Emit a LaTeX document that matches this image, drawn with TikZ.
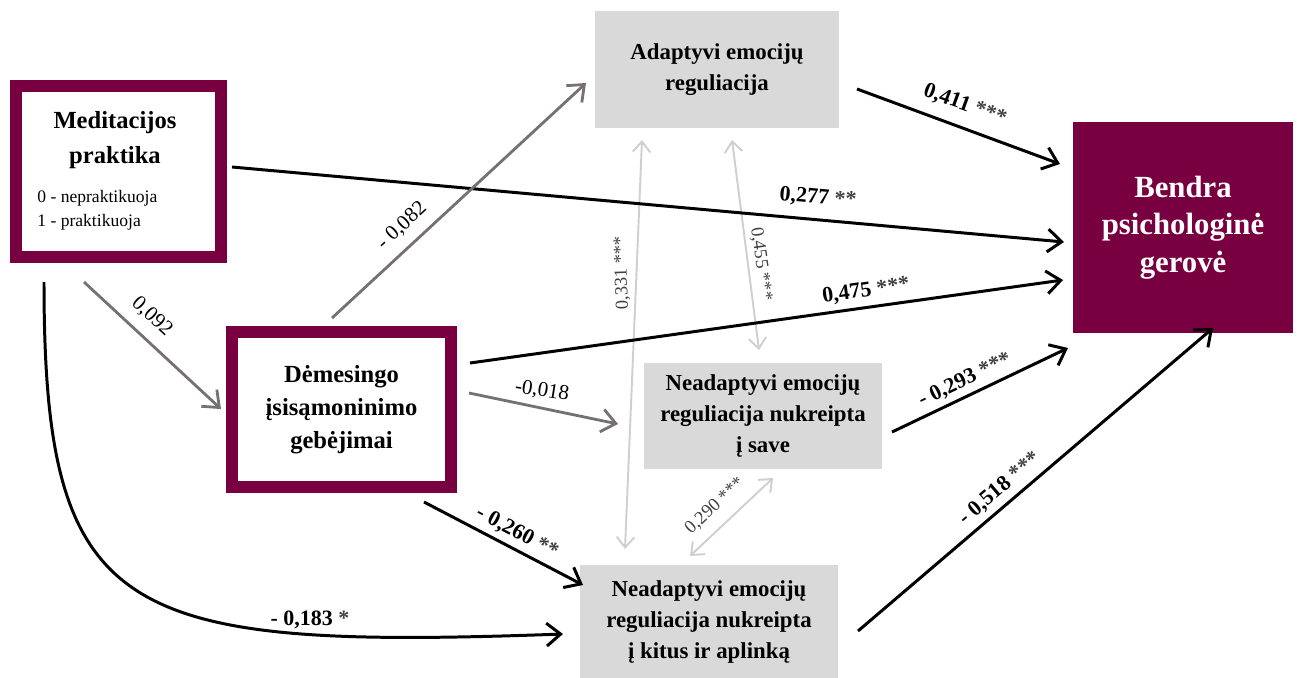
\documentclass[tikz,border=0pt]{standalone}
\usepackage{fontspec}
\setmainfont{Liberation Serif}
\usetikzlibrary{arrows.meta}
\definecolor{wine}{HTML}{780040}
\definecolor{boxgray}{HTML}{D9D9D9}
\definecolor{arrgray}{HTML}{767171}
\definecolor{corgray}{HTML}{D0CECE}
\definecolor{stargray}{HTML}{404040}
\tikzset{
  framebox/.style={draw=wine, line width=6.8pt, fill=white, inner sep=0pt},
  graybox/.style={fill=boxgray, inner sep=0pt, align=center, font=\fontsize{13}{17.8}\selectfont\bfseries},
  blk/.style={draw=black, line width=1.7pt, -{Straight Barb[length=8pt,width=13pt]}},
  gry/.style={draw=arrgray, line width=1.6pt, -{Straight Barb[length=8pt,width=13pt]}},
  cor/.style={draw=corgray, line width=1.1pt, {Straight Barb[length=6pt,width=10pt]}-{Straight Barb[length=6pt,width=10pt]}},
  lblb/.style={font=\fontsize{12.5}{14}\selectfont\bfseries, inner sep=0pt},
  lbln/.style={font=\fontsize{12}{14}\selectfont, inner sep=0pt},
  lblc/.style={font=\fontsize{10.5}{12}\selectfont, text=stargray, inner sep=0pt},
}
\newcommand{\stars}[1]{{\color{stargray}#1}}
\begin{document}
\begin{tikzpicture}[x=0.02cm, y=-0.02cm]
\useasboundingbox (0,0) rectangle (1297,677);
% boxes
\node[framebox, minimum width=4.1cm, minimum height=3.42cm] (med) at (118.5,171.5) {};
\node[font=\fontsize{14}{19.5}\selectfont\bfseries, align=center, inner sep=0pt] (medt) at (115,140) {Meditacijos\\praktika};
\node[font=\fontsize{10}{13.6}\selectfont, align=left, anchor=west, inner sep=0pt] (meds) at (37,210) {0 - nepraktikuoja\\1 - praktikuoja};
\node[framebox, minimum width=4.38cm, minimum height=3.1cm, align=center, font=\fontsize{14}{18.7}\selectfont\bfseries] (dem) at (341.5,409.5) {Dėmesingo\\įsisąmoninimo\\gebėjimai};
\node[graybox, minimum width=4.88cm, minimum height=2.34cm] (ada) at (717,69.5) {Adaptyvi emocijų\\reguliacija};
\node[graybox, minimum width=4.76cm, minimum height=2.12cm] (save) at (763,416) {Neadaptyvi emocijų\\reguliacija nukreipta\\į save};
\node[graybox, minimum width=5.16cm, minimum height=2.28cm] (kitus) at (709,622) {Neadaptyvi emocijų\\reguliacija nukreipta\\į kitus ir aplinką};
\node[fill=wine, text=white, inner sep=0pt, minimum width=4.4cm, minimum height=4.22cm, align=center, font=\fontsize{17.5}{21.5}\selectfont\bfseries] (bendra) at (1183,227.5) {Bendra\\psichologinė\\gerovė};
% correlations
\draw[cor] ([shift={(-75,70.5)}]ada.center) -- ([shift={(-84,-73)}]kitus.center);
\draw[cor] ([shift={(15,70.5)}]ada.center) -- ([shift={(-4,-66)}]save.center);
\draw[cor] ([shift={(10,62)}]save.center) -- ([shift={(-19,-66)}]kitus.center);
% paths
\draw[blk] ([shift={(113.5,-4.5)}]med.center) -- ([shift={(-119,14.5)}]bendra.center);
\draw[blk] ([shift={(128.5,-46.5)}]dem.center) -- ([shift={(-120,52.5)}]bendra.center);
\draw[blk] ([shift={(140,19.5)}]ada.center) -- ([shift={(-123,-63.5)}]bendra.center);
\draw[blk] ([shift={(129,16)}]save.center) -- ([shift={(-115,120.5)}]bendra.center);
\draw[blk] ([shift={(149,9)}]kitus.center) -- ([shift={(30,100.5)}]bendra.center);
\draw[gry] ([shift={(-34.5,110.5)}]med.center) -- ([shift={(-120.5,-0.5)}]dem.center);
\draw[gry] ([shift={(-9.5,-91.5)}]dem.center) -- ([shift={(-131,13.5)}]ada.center);
\draw[gry] ([shift={(127.5,-16.5)}]dem.center) -- ([shift={(-145,8)}]save.center);
\draw[blk] ([shift={(82.5,92.5)}]dem.center) -- ([shift={(-126,-37)}]kitus.center);
\draw[blk] ([shift={(-74.5,110.5)}]med.center) .. controls (44,620) and (120,650) .. ([shift={(-146,12)}]kitus.center);
% labels
\node[lblb, rotate=-5] (l1) at (818,198) {0,277 \stars{**}};
\node[lblb, rotate=8] (l2) at (866,291) {0,475 \stars{***}};
\node[lblb, rotate=-20] (l3) at (965,105) {0,411 \stars{***}};
\node[lblb, rotate=25.5] (l4) at (965,380) {- 0,293 \stars{***}};
\node[lblb, rotate=40.5] (l5) at (1000,489) {- 0,518 \stars{***}};
\node[lbln, rotate=-43] (l6) at (152,317) {0,092};
\node[lbln, rotate=43] (l7) at (402,226) {- 0,082};
\node[lbln, rotate=-9] (l8) at (542,391) {-0,018};
\node[lblb, rotate=-28] (l9) at (517,533) {- 0,260 \stars{**}};
\node[lblb] (l10) at (310,620) {- 0,183 \stars{*}};
\node[lblc, rotate=92] (c1) at (622,273) {0,331 ***};
\node[lblc, rotate=-82] (c2) at (761,264) {0,455 ***};
\node[lblc, rotate=43] (c3) at (715,506) {0,290 ***};
\end{tikzpicture}
\end{document}
